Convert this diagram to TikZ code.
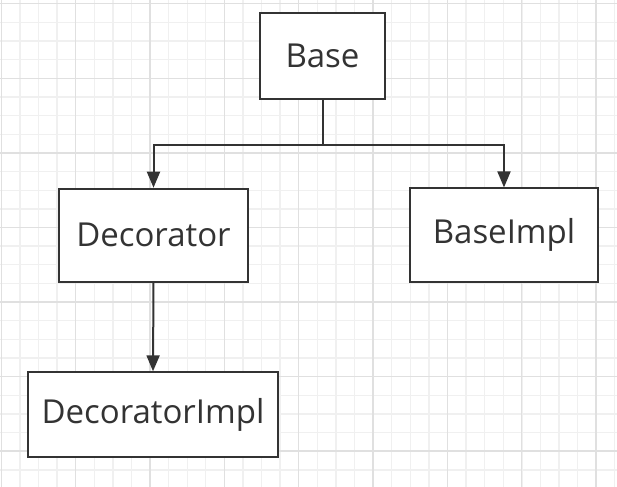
\documentclass[tikz,border=0pt]{standalone}
\usepackage{fontspec}
\setmainfont{Open Sans}
\usetikzlibrary{arrows.meta}
\definecolor{ink}{HTML}{333333}
\definecolor{gridminor}{HTML}{F0F0F0}
\definecolor{gridmajor}{HTML}{E0E0E0}

\begin{document}
\begin{tikzpicture}[
  x=0.5pt, y=-0.5pt, >={Triangle[length=8pt,width=6.5pt]},
  cls/.style={draw=ink, line width=1pt, fill=white, text=ink, inner sep=0pt,
    font=\fontsize{16.5}{19}\selectfont},
  link/.style={draw=ink, line width=1pt, ->},
]
  \useasboundingbox (0,0) rectangle (617,487);
  \fill[white] (0,0) rectangle (617,487);
  % background grid
  \foreach \i in {0,...,33}
    \draw[gridminor, line width=0.7pt] ({1.3+\i*18.59},0) -- ({1.3+\i*18.59},487);
  \foreach \j in {0,...,26}
    \draw[gridminor, line width=0.7pt] (0,{3.8+\j*18.64}) -- (617,{3.8+\j*18.64});
  \foreach \i in {0,...,8}
    \draw[gridmajor, line width=0.7pt] ({1.3+\i*74.35},0) -- ({1.3+\i*74.35},487);
  \foreach \j in {0,...,6}
    \draw[gridmajor, line width=0.7pt] (0,{3.8+\j*74.55}) -- (617,{3.8+\j*74.55});

  \node[cls, minimum width=62.5pt, minimum height=43pt] (base) at (322.5,56) {Base};
  \node[cls, minimum width=94.5pt, minimum height=46.5pt] (deco) at (153.5,235.2) {Decorator};
  \node[cls, minimum width=94pt, minimum height=46.8pt] (baseimpl) at (504,235.2) {BaseImpl};
  \node[cls, minimum width=124.7pt, minimum height=42.2pt] (decoimpl) at (153,414.5) {DecoratorImpl};

  \coordinate (split) at (322.5,145);
  \draw[link] (base.south) -- (split) -| (deco.north);
  \draw[link] (split) -| (baseimpl.north);
  \draw[link] (deco.south) -- (decoimpl.north);
\end{tikzpicture}
\end{document}
